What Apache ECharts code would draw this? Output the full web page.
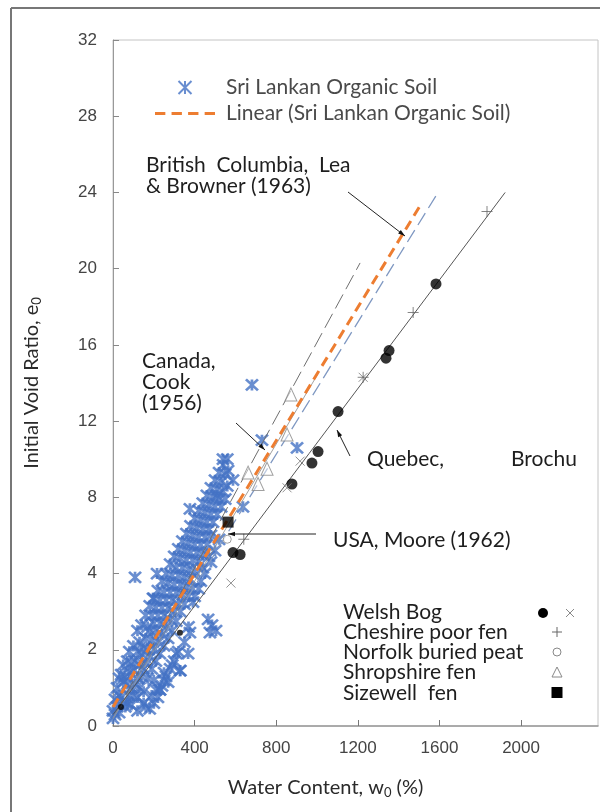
<!DOCTYPE html>
<html><head><meta charset="utf-8">
<script src="https://cdn.jsdelivr.net/npm/echarts@6/dist/echarts.min.js"></script>
<style>html,body{margin:0;padding:0;background:#fff}#c{width:600px;height:812px}</style>
</head><body><div id="c"></div>
<script>
// Y axis positions are evenly spaced; tick i sits at axis value 4*i and carries this label
const yTickLabels = ['0','2','4','8','12','16','20','24','28','32'];
const xTickValues = [0,400,800,1200,1600,2000];

// Sri Lankan Organic Soil  [water content %, axis position]
const sriLankan = [
 [0,0.8],[0,0.4],[10,1.4],[10,0.6],[20,1.0],[20,2.0],[30,1.6],[30,0.7],[30,2.5],[40,1.5],[40,2.7],
 [50,1.3],[50,2.3],[50,3.2],[60,1.0],[60,2.6],[70,2.2],[70,3.4],[70,1.2],[80,2.8],[80,1.6],[80,3.9],
 [90,2.0],[90,3.3],[90,1.1],[100,2.9],[100,4.2],[100,1.6],[110,3.4],[110,2.2],[120,2.5],[120,3.9],[120,5.0],[120,1.5],
 [130,3.2],[130,4.4],[130,2.0],[140,3.8],[140,5.3],[140,2.6],[150,4.1],[150,3.0],[150,1.8],[160,4.6],[160,5.8],[160,3.3],
 [170,4.0],[170,5.2],[170,2.5],[180,5.0],[180,6.3],[180,3.6],[190,4.5],[190,5.8],[190,3.0],[200,5.4],[200,6.7],[200,4.0],[200,2.4],
 [210,5.0],[210,6.2],[210,3.4],[220,5.8],[220,7.1],[220,4.4],[230,5.4],[230,6.6],[230,3.8],[240,6.2],[240,7.6],[240,4.8],
 [250,5.8],[250,7.0],[250,4.2],[260,6.6],[260,8.0],[260,5.2],[270,6.2],[270,7.5],[270,4.6],[280,7.0],[280,8.5],[280,5.6],
 [290,6.6],[290,7.9],[290,5.0],[300,7.4],[300,8.9],[300,6.0],[310,7.0],[310,8.3],[310,5.5],[320,7.9],[320,9.3],[320,6.4],
 [330,7.4],[330,8.8],[330,6.0],[340,8.3],[340,9.7],[340,6.9],[350,7.8],[350,9.2],[350,6.4],[360,8.7],[360,10.1],[360,7.3],
 [370,8.2],[370,9.6],[370,6.8],[380,9.1],[380,10.5],[380,7.7],[390,8.7],[390,10.0],[390,7.2],[400,9.5],[400,10.9],[400,8.1],
 [410,9.1],[410,10.4],[420,9.9],[420,11.3],[420,8.6],[430,9.5],[430,10.8],[440,10.3],[440,11.7],[440,9.0],[450,9.9],[450,11.2],
 [460,10.7],[460,12.1],[460,9.5],[470,10.3],[470,11.6],[480,11.1],[480,12.5],[480,10.0],[490,10.7],[490,12.0],
 [500,11.5],[500,12.9],[510,11.1],[510,12.4],[520,11.9],[520,13.3],[530,11.5],[530,12.8],[540,12.3],[540,13.7],
 [550,11.9],[550,13.2],[560,12.6],[560,14.0],
 [150,1.2],[190,1.6],[230,1.9],[270,2.3],[250,2.8],[290,3.2],[310,3.8],[330,2.9],[350,4.4],[370,5.2],
 [180,0.9],[200,1.2],[220,1.5],[240,2.1],[260,2.6],[280,3.0],[300,3.4],[320,3.9],[120,0.8],[160,1.0],[210,1.9],[250,2.4],
 [400,6.8],[420,7.2],[430,7.6],[450,8.0],[480,8.6],[500,9.2],[520,9.8],[470,8.9],[440,8.3],
 [681,17.9],[730,15.0],[902,14.6],[539,14.0],[564,13.4],[588,12.9],[377,11.4],[510,12.1],[637,11.5],
 [108,7.8],[216,8.0],[196,6.7],[392,6.5],[485,5.3],[466,5.6],[505,5.0],[475,4.9],[377,4.9],[368,3.8],
 [328,2.9],[230,1.9]
];
const sriLankanFit = [[0,1.0],[1505,27.3]];

// reference lines of the earlier studies
const cookLine    = [[10,0.6],[1211,24.3]];
const bcLine      = [[0,0.4],[1593,28.0]];
const mooreLine   = [[0,0.4],[1000,18.4]];
const brochuLine  = [[0,0.6],[1922,28.0]];

// peat data
const welshBogDots  = [[1583,23.2],[1353,19.7],[1338,19.3],[1103,16.5],[1005,14.4],[975,13.8],[877,12.7],[588,9.1],[623,9.0]];
const welshBogSmall = [[328,4.9],[39,1.0]];
const welshBogCross = [[578,7.5],[1226,18.3],[853,12.5],[917,13.9]];
const cheshirePlus  = [[1833,27.0],[1471,21.7],[1226,18.3],[641,9.8]];
const norfolkOpen   = [[560,9.8]];
const shropshireTri = [[872,17.4],[853,15.3],[755,13.5],[711,12.7],[662,13.3]];
const sizewellSq    = [[564,10.7]];

const F = 'Lato, "Open Sans", sans-serif';
const TF = '"Liberation Sans", Arial, sans-serif';
const blue = '#4472C4';
const sriSymbol = 'path://M0,0L10,10M10,0L0,10M5,0L5,10';
const crossSym = 'path://M0,0L10,10M10,0L0,10';
const plusSym = 'path://M5,0L5,10M0,5L10,5';
const dashIcon = 'path://M0,0h10v3h-10zM16,0h10v3h-10zM32,0h10v3h-10zM48,0h10v3h-10z';

const chart = echarts.init(document.getElementById('c'));

function lineSeries(name, data, color, type, width) {
  return {name, type:'line', data, symbol:'none', silent:true, z:3,
    lineStyle:{color, width, type}, emphasis:{disabled:true}};
}
function arrow(x1,y1,x2,y2){
  const dx=x2-x1, dy=y2-y1, L=Math.hypot(dx,dy), ux=dx/L, uy=dy/L, px=-uy, py=ux;
  const hl=7, hw=2.2;
  return [
    {type:'line', shape:{x1,y1,x2,y2}, style:{stroke:'#222', lineWidth:1}, z:20},
    {type:'polygon', shape:{points:[[x2,y2],[x2-ux*hl+px*hw,y2-uy*hl+py*hw],[x2-ux*hl-px*hw,y2-uy*hl-py*hw]]}, style:{fill:'#111'}, z:20}
  ];
}
function txt(x,y,text,size){
  return {type:'text', x, y, z:20, style:{text, font:(size||21)+'px '+F, fill:'#1e1e1e', align:'left', verticalAlign:'middle'}};
}

const lx = 557;
const graphics = [
  {type:'line', shape:{x1:11,y1:8,x2:600,y2:8}, style:{stroke:'#777', lineWidth:2}},
  {type:'line', shape:{x1:11,y1:8,x2:11,y2:812}, style:{stroke:'#777', lineWidth:2}},
  txt(146,165,'British  Columbia,  Lea'),
  txt(146,186,'& Browner (1963)'),
  txt(142,361,'Canada,'),
  txt(142,382,'Cook'),
  txt(142,403,'(1956)'),
  txt(367,459,'Quebec,'),
  txt(511,459,'Brochu'),
  txt(333,540,'USA, Moore (1962)'),
  ...arrow(348,192,405,236),
  ...arrow(236,423,265,450),
  ...arrow(350,456,337,430),
  ...arrow(316,534,228,534),
  // lower legend
  txt(343,612,'Welsh Bog'),
  txt(343,632,'Cheshire poor fen'),
  txt(343,652,'Norfolk buried peat'),
  txt(343,672,'Shropshire fen'),
  txt(343,693,'Sizewell  fen'),
  {type:'circle', shape:{cx:543,cy:613,r:5}, style:{fill:'#000'}},
  {type:'line', shape:{x1:566,y1:609,x2:574,y2:617}, style:{stroke:'#888', lineWidth:1}},
  {type:'line', shape:{x1:574,y1:609,x2:566,y2:617}, style:{stroke:'#888', lineWidth:1}},
  {type:'line', shape:{x1:lx,y1:627,x2:lx,y2:637}, style:{stroke:'#666', lineWidth:1}},
  {type:'line', shape:{x1:lx-5,y1:632,x2:lx+5,y2:632}, style:{stroke:'#666', lineWidth:1}},
  {type:'circle', shape:{cx:lx,cy:652,r:4}, style:{fill:'none', stroke:'#888', lineWidth:1}},
  {type:'polygon', shape:{points:[[lx,667],[lx+5,677],[lx-5,677]]}, style:{fill:'none', stroke:'#888', lineWidth:1}},
  {type:'rect', shape:{x:lx-5.5,y:687,width:11,height:11}, style:{fill:'#000'}}
];

chart.setOption({
  animation:false,
  textStyle:{fontFamily:F},
  grid:{left:113, right:2, top:40, bottom:86, show:true, borderColor:'#c4c4c4', borderWidth:1},
  legend:{
    orient:'vertical', left:150, top:72, itemWidth:60, itemHeight:13, itemGap:5,
    textStyle:{fontFamily:F, fontSize:21, color:'#4a4a4a', padding:[0,0,0,6]},
    data:[{name:'Sri Lankan Organic Soil'},{name:'Linear (Sri Lankan Organic Soil)', icon:dashIcon}],
    selectedMode:false
  },
  xAxis:{
    type:'value', min:0, max:2377, interval:400,
    name:'Water Content, w{s|0} (%)', nameLocation:'middle', nameGap:50,
    nameTextStyle:{fontFamily:F, fontSize:20, color:'#2a2a2a', padding:[0,60,0,0], rich:{s:{fontSize:13, fontFamily:F, color:'#2a2a2a', padding:[10,0,0,0]}}},
    axisLine:{show:true, lineStyle:{color:'#999', width:1.5}},
    axisTick:{show:true, inside:true, length:6, customValues:xTickValues, lineStyle:{color:'#777'}},
    axisLabel:{customValues:xTickValues, fontFamily:TF, fontSize:17, color:'#444', margin:14, formatter:function(v){return String(v);}},
    splitLine:{show:false}
  },
  yAxis:{
    type:'value', min:0, max:36, interval:4,
    name:'Initial Void Ratio, e{s|0}', nameLocation:'middle', nameGap:70, nameRotate:90,
    nameTextStyle:{fontFamily:F, fontSize:20, color:'#2a2a2a', rich:{s:{fontSize:13, fontFamily:F, color:'#2a2a2a', padding:[10,0,0,0]}}},
    axisLine:{show:true, lineStyle:{color:'#999', width:1}},
    axisTick:{show:true, inside:true, length:6, lineStyle:{color:'#888'}},
    axisLabel:{fontFamily:TF, fontSize:17, color:'#444', margin:16,
      formatter:function(v){ return yTickLabels[Math.round(v/4)]; }},
    splitLine:{show:false}
  },
  series:[
    {name:'Sri Lankan Organic Soil', type:'scatter', data:sriLankan, symbol:sriSymbol, symbolSize:[12,11], z:2,
      itemStyle:{color:'rgba(0,0,0,0)', borderColor:blue, borderWidth:2.6}, emphasis:{disabled:true}},
    lineSeries('cook', cookLine, '#6e6e6e', [16,6], 1),
    lineSeries('bc', bcLine, '#7f98c2', [14,6], 1.3),
    lineSeries('moore', mooreLine, '#8a8a8a', 'solid', 0.8),
    lineSeries('brochu', brochuLine, '#555', 'solid', 1),
    {name:'Linear (Sri Lankan Organic Soil)', type:'line', data:sriLankanFit, symbol:'none', z:4,
      lineStyle:{color:'#ED7D31', width:3, type:[10,6]}, itemStyle:{color:'#ED7D31'}, emphasis:{disabled:true}},
    {name:'Welsh Bog', type:'scatter', data:welshBogDots, symbol:'circle', symbolSize:11, z:6, itemStyle:{color:'#000'}},
    {name:'Welsh Bog small', type:'scatter', data:welshBogSmall, symbol:'circle', symbolSize:6, z:6, itemStyle:{color:'#000'}},
    {name:'Welsh Bog cross', type:'scatter', data:welshBogCross, symbol:crossSym, symbolSize:9, z:6,
      itemStyle:{color:'rgba(0,0,0,0)', borderColor:'#777', borderWidth:1}},
    {name:'Cheshire poor fen', type:'scatter', data:cheshirePlus, symbol:plusSym, symbolSize:11, z:6,
      itemStyle:{color:'rgba(0,0,0,0)', borderColor:'#666', borderWidth:1}},
    {name:'Norfolk buried peat', type:'scatter', data:norfolkOpen, symbol:'circle', symbolSize:8, z:6,
      itemStyle:{color:'#fff', borderColor:'#888', borderWidth:1}},
    {name:'Shropshire fen', type:'scatter', data:shropshireTri, symbol:'triangle', symbolSize:[12,13], z:6,
      itemStyle:{color:'rgba(255,255,255,0.6)', borderColor:'#888', borderWidth:1}},
    {name:'Sizewell fen', type:'scatter', data:sizewellSq, symbol:'rect', symbolSize:11, z:6, itemStyle:{color:'#000'}}
  ],
  graphic:graphics
});
</script></body></html>
